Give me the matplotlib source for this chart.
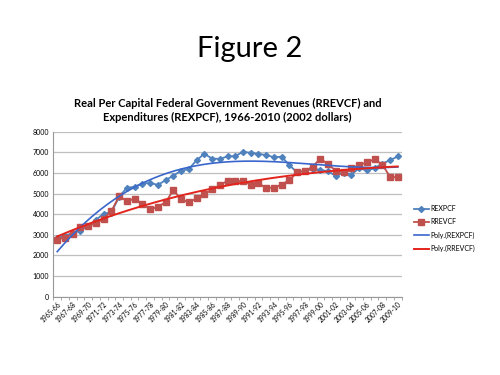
import numpy as np
import matplotlib
matplotlib.use("Agg")
import matplotlib.pyplot as plt
from matplotlib.lines import Line2D

plt.rcParams['font.family'] = ['Lato', 'DejaVu Sans']

years = [f"{y}-{str(y + 1)[-2:]}" for y in range(1965, 2010)]

rexpcf = [2850, 2950, 3100, 3200, 3450, 3720, 4030, 4080, 4850, 5280,
          5330, 5480, 5520, 5420, 5650, 5870, 6100, 6190, 6610, 6930,
          6700, 6680, 6800, 6820, 7020, 6980, 6920, 6870, 6760, 6790,
          6370, 6030, 6100, 6200, 6150, 6080, 5850, 6020, 5920, 6230,
          6120, 6230, 6450, 6620, 6800]

rrevcf = [2770, 2870, 3020, 3360, 3440, 3550, 3790, 4150, 4880, 4630,
          4750, 4500, 4230, 4360, 4580, 5160, 4730, 4570, 4770, 4960,
          5200, 5410, 5620, 5620, 5600, 5440, 5490, 5280, 5280, 5440,
          5650, 6030, 6100, 6300, 6700, 6410, 6110, 6030, 6220, 6380,
          6510, 6670, 6400, 5820, 5780]

yticks = list(range(0, 8001, 1000))

c_exp = '#4F81BD'
c_rev = '#C0504D'
c_exp_tr = '#3A66CC'
c_rev_tr = '#E3241C'

fig = plt.figure(figsize=(5, 3.75), dpi=100)
fig.text(0.5, 0.868, "Figure 2", ha='center', va='center', fontsize=21)

ax = fig.add_axes([0.1067, 0.2088, 0.6966, 0.44])
x = np.arange(len(years))

ax.plot(x, rexpcf, color=c_exp, lw=1.3, marker='D', ms=3, mec=c_exp, mfc=c_exp, zorder=3)
ax.plot(x, rrevcf, color=c_rev, lw=1.3, marker='s', ms=4, mec=c_rev, mfc=c_rev, zorder=3)

xf = np.linspace(0, len(years) - 1, 200)
pe = np.polyfit(x, rexpcf, 3)
pr = np.polyfit(x, rrevcf, 3)
ax.plot(xf, np.polyval(pe, xf), color=c_exp_tr, lw=1.2, zorder=4)
ax.plot(xf, np.polyval(pr, xf), color=c_rev_tr, lw=1.4, zorder=4)

ax.set_xlim(-0.5, len(years) - 0.5)
ax.set_ylim(0, 8000)
ax.set_yticks(yticks)
ax.set_yticklabels([str(v) for v in yticks], fontsize=5)
ax.yaxis.grid(True, color='#BFBFBF', lw=0.9)
ax.set_axisbelow(True)
ax.tick_params(axis='y', length=0, pad=3)

ax.set_xticks(x[::2])
ax.set_xticklabels(years[::2], rotation=45, ha='right', rotation_mode='anchor', fontsize=4.8)
ax.set_xticks(np.arange(-0.5, len(years)), minor=True)
ax.tick_params(axis='x', which='major', length=0, pad=3)
ax.tick_params(axis='x', which='minor', length=2.5, color='#999999')

for s in ['top', 'right']:
    ax.spines[s].set_visible(False)
for s in ['left', 'bottom']:
    ax.spines[s].set_color('#999999')
    ax.spines[s].set_linewidth(0.8)

ax.set_title("Real Per Capital Federal Government Revenues (RREVCF) and\n"
             "Expenditures (REXPCF), 1966-2010 (2002 dollars)",
             fontsize=8, fontweight='bold', pad=8, linespacing=1.3)

handles = [
    Line2D([], [], color=c_exp, lw=1.3, marker='D', ms=3),
    Line2D([], [], color=c_rev, lw=1.3, marker='s', ms=4),
    Line2D([], [], color=c_exp_tr, lw=1.2),
    Line2D([], [], color=c_rev_tr, lw=1.4),
]
labels = ['REXPCF', 'RREVCF', 'Poly.(REXPCF)', 'Poly.(RREVCF)']
fig.legend(handles, labels, loc='center left', bbox_to_anchor=(0.815, 0.39),
           frameon=False, fontsize=5, handlelength=2.2, handletextpad=0.2,
           labelspacing=0.9)

fig.savefig('out.png', dpi=100)
